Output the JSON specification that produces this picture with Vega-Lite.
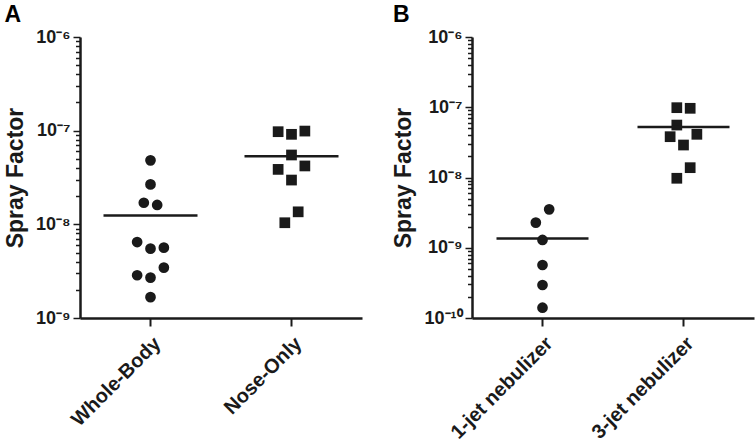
{
  "$schema": "https://vega.github.io/schema/vega-lite/v6.json",
  "background": "white",
  "padding": {"left": 4, "top": 4, "right": 2, "bottom": 0},
  "spacing": 30,
  "datasets": {
    "pts": [
      {"panel": "A", "group": "Whole-Body", "slot": 0, "value": 4.82e-8},
      {"panel": "A", "group": "Whole-Body", "slot": 0, "value": 2.67e-8},
      {"panel": "A", "group": "Whole-Body", "slot": -1, "value": 1.70e-8},
      {"panel": "A", "group": "Whole-Body", "slot": 1, "value": 1.61e-8},
      {"panel": "A", "group": "Whole-Body", "slot": -2, "value": 6.47e-9},
      {"panel": "A", "group": "Whole-Body", "slot": 0, "value": 5.50e-9},
      {"panel": "A", "group": "Whole-Body", "slot": 2, "value": 5.64e-9},
      {"panel": "A", "group": "Whole-Body", "slot": 2, "value": 3.45e-9},
      {"panel": "A", "group": "Whole-Body", "slot": -2, "value": 2.86e-9},
      {"panel": "A", "group": "Whole-Body", "slot": 0, "value": 2.70e-9},
      {"panel": "A", "group": "Whole-Body", "slot": 0, "value": 1.67e-9},
      {"panel": "A", "group": "Nose-Only", "slot": -2, "value": 9.75e-8},
      {"panel": "A", "group": "Nose-Only", "slot": 0, "value": 9.14e-8},
      {"panel": "A", "group": "Nose-Only", "slot": 2, "value": 9.9e-8},
      {"panel": "A", "group": "Nose-Only", "slot": 0, "value": 5.50e-8},
      {"panel": "A", "group": "Nose-Only", "slot": -2, "value": 3.86e-8},
      {"panel": "A", "group": "Nose-Only", "slot": 2, "value": 4.20e-8},
      {"panel": "A", "group": "Nose-Only", "slot": 0, "value": 2.97e-8},
      {"panel": "A", "group": "Nose-Only", "slot": 1, "value": 1.36e-8},
      {"panel": "A", "group": "Nose-Only", "slot": -1, "value": 1.04e-8},
      {"panel": "B", "group": "1-jet nebulizer", "slot": 1, "value": 3.52e-9},
      {"panel": "B", "group": "1-jet nebulizer", "slot": -1, "value": 2.28e-9},
      {"panel": "B", "group": "1-jet nebulizer", "slot": 0, "value": 1.29e-9},
      {"panel": "B", "group": "1-jet nebulizer", "slot": 0, "value": 5.68e-10},
      {"panel": "B", "group": "1-jet nebulizer", "slot": 0, "value": 2.95e-10},
      {"panel": "B", "group": "1-jet nebulizer", "slot": 0, "value": 1.40e-10},
      {"panel": "B", "group": "3-jet nebulizer", "slot": -1, "value": 9.86e-8},
      {"panel": "B", "group": "3-jet nebulizer", "slot": 1, "value": 9.66e-8},
      {"panel": "B", "group": "3-jet nebulizer", "slot": -1, "value": 5.58e-8},
      {"panel": "B", "group": "3-jet nebulizer", "slot": -2, "value": 3.81e-8},
      {"panel": "B", "group": "3-jet nebulizer", "slot": 2, "value": 4.12e-8},
      {"panel": "B", "group": "3-jet nebulizer", "slot": 0, "value": 2.90e-8},
      {"panel": "B", "group": "3-jet nebulizer", "slot": 1, "value": 1.38e-8},
      {"panel": "B", "group": "3-jet nebulizer", "slot": -1, "value": 9.75e-9}
    ],
    "means": [
      {"panel": "A", "group": "Whole-Body", "value": 1.24e-8},
      {"panel": "A", "group": "Nose-Only", "value": 5.32e-8},
      {"panel": "B", "group": "1-jet nebulizer", "value": 1.35e-9},
      {"panel": "B", "group": "3-jet nebulizer", "value": 5.24e-8}
    ]
  },
  "hconcat": [
    {
      "title": {"text": "A"},
      "width": 282,
      "height": 281,
      "layer": [
        {
          "data": {"name": "pts"},
          "transform": [{"filter": "datum.panel == 'A'"}],
          "mark": {"type": "point", "filled": true, "opacity": 1, "color": "#1a1a1a", "size": 115},
          "encoding": {
            "x": {"field": "group", "type": "nominal", "sort": ["Whole-Body", "Nose-Only"],
              "scale": {"type": "band", "paddingInner": 0, "paddingOuter": 0},
              "axis": {"title": null, "labelAngle": -45}},
            "xOffset": {"field": "slot", "type": "ordinal", "scale": {"type": "point", "domain": [-2, -1, 0, 1, 2], "range": [53.8, 87.2]}},
            "y": {"field": "value", "type": "quantitative",
              "scale": {"type": "log", "domain": [1e-9, 1e-6], "nice": false},
              "axis": {"title": "Spray Factor",
                "values": [1e-9,2e-9,3e-9,4e-9,5e-9,6e-9,7e-9,8e-9,9e-9,1e-8,2e-8,3e-8,4e-8,5e-8,6e-8,7e-8,8e-8,9e-8,1e-7,2e-7,3e-7,4e-7,5e-7,6e-7,7e-7,8e-7,9e-7,1e-6]}},
            "shape": {"field": "group", "type": "nominal", "scale": {"domain": ["Whole-Body", "Nose-Only"], "range": ["circle", "square"]}, "legend": null}
          }
        },
        {
          "data": {"name": "means"},
          "transform": [{"filter": "datum.panel == 'A'"}],
          "mark": {"type": "tick", "color": "#1a1a1a", "opacity": 1, "size": 94, "thickness": 2.5},
          "encoding": {
            "x": {"field": "group", "type": "nominal", "sort": ["Whole-Body", "Nose-Only"]},
            "y": {"field": "value", "type": "quantitative"}
          }
        }
      ]
    },
    {
      "title": {"text": "B"},
      "width": 282,
      "height": 281,
      "layer": [
        {
          "data": {"name": "pts"},
          "transform": [{"filter": "datum.panel == 'B'"}],
          "mark": {"type": "point", "filled": true, "opacity": 1, "color": "#1a1a1a", "size": 115},
          "encoding": {
            "x": {"field": "group", "type": "nominal", "sort": ["1-jet nebulizer", "3-jet nebulizer"],
              "scale": {"type": "band", "paddingInner": 0, "paddingOuter": 0},
              "axis": {"title": null, "labelAngle": -45}},
            "xOffset": {"field": "slot", "type": "ordinal", "scale": {"type": "point", "domain": [-2, -1, 0, 1, 2], "range": [53.8, 87.2]}},
            "y": {"field": "value", "type": "quantitative",
              "scale": {"type": "log", "domain": [1e-10, 1e-6], "nice": false},
              "axis": {"title": "Spray Factor",
                "values": [1e-10,2e-10,3e-10,4e-10,5e-10,6e-10,7e-10,8e-10,9e-10,1e-9,2e-9,3e-9,4e-9,5e-9,6e-9,7e-9,8e-9,9e-9,1e-8,2e-8,3e-8,4e-8,5e-8,6e-8,7e-8,8e-8,9e-8,1e-7,2e-7,3e-7,4e-7,5e-7,6e-7,7e-7,8e-7,9e-7,1e-6]}},
            "shape": {"field": "group", "type": "nominal", "scale": {"domain": ["1-jet nebulizer", "3-jet nebulizer"], "range": ["circle", "square"]}, "legend": null}
          }
        },
        {
          "data": {"name": "means"},
          "transform": [{"filter": "datum.panel == 'B'"}],
          "mark": {"type": "tick", "color": "#1a1a1a", "opacity": 1, "size": 92, "thickness": 2.5},
          "encoding": {
            "x": {"field": "group", "type": "nominal", "sort": ["1-jet nebulizer", "3-jet nebulizer"]},
            "y": {"field": "value", "type": "quantitative"}
          }
        }
      ]
    }
  ],
  "resolve": {"scale": {"shape": "independent"}},
  "config": {
    "view": {"stroke": null},
    "font": "Liberation Sans",
    "title": {"anchor": "start", "frame": "bounds", "fontSize": 23, "fontWeight": "bold", "font": "Liberation Sans", "color": "black", "offset": 1},
    "axis": {
      "grid": false,
      "domainColor": "#1a1a1a",
      "domainWidth": 2.5,
      "tickColor": "#1a1a1a",
      "labelColor": "#1a1a1a",
      "titleColor": "#1a1a1a",
      "labelFont": "Liberation Sans",
      "titleFont": "Liberation Sans",
      "labelFontWeight": "bold",
      "titleFontWeight": "bold"
    },
    "axisX": {"tickSize": 8, "tickWidth": 2, "labelFontSize": 20, "labelPadding": 7},
    "axisY": {
      "labelFontSize": 18,
      "titleFontSize": 23,
      "titlePadding": 8,
      "labelPadding": 3,
      "labelOverlap": false,
      "labelFlush": false,
      "labelBaseline": "middle",
      "tickWidth": 1.5,
      "tickSize": {"condition": {"test": "abs(log(datum.value)/LN10 - round(log(datum.value)/LN10)) < 0.001", "value": 7}, "value": 4.5},
      "labelExpr": "abs(log(datum.value)/LN10 - round(log(datum.value)/LN10)) > 0.001 ? '' : '10' + ['⁻¹⁰','⁻⁹','⁻⁸','⁻⁷','⁻⁶'][round(log(datum.value)/LN10)+10]"
    }
  }
}
